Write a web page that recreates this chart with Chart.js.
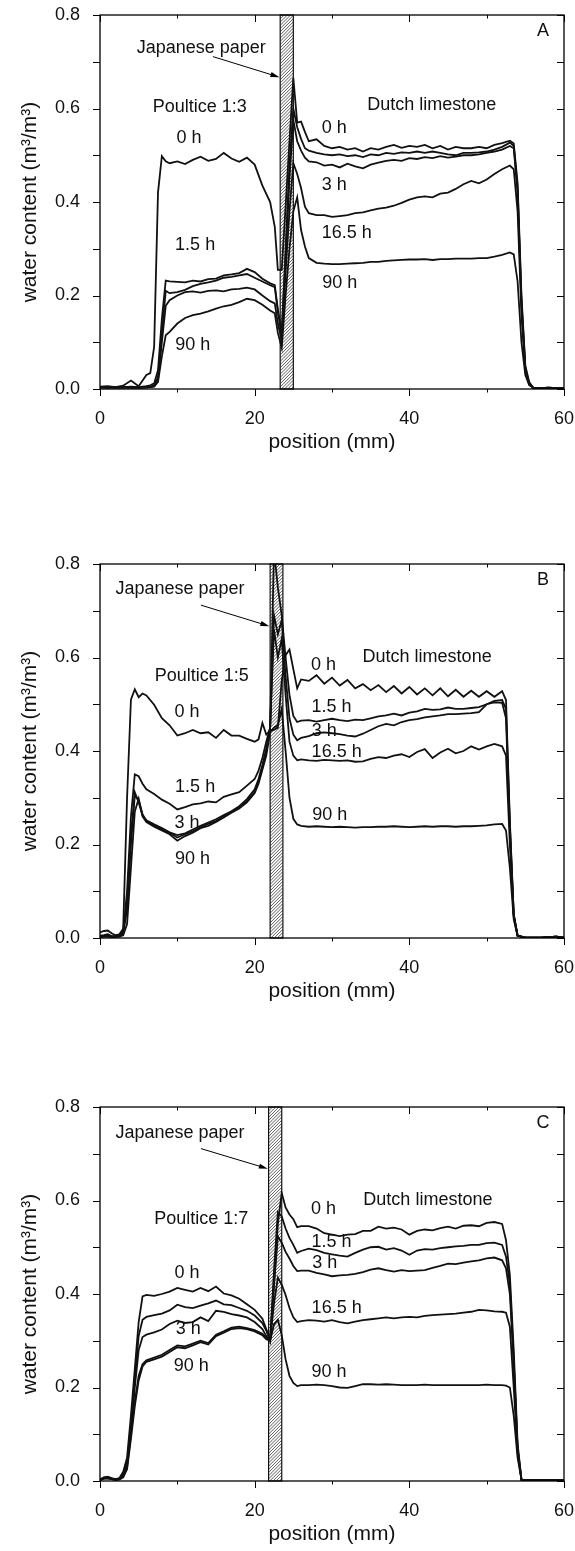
<!DOCTYPE html>
<html>
<head>
<meta charset="utf-8">
<title>water content profiles</title>
<script src="https://cdn.jsdelivr.net/npm/chart.js"></script>
<style>
body{margin:0;background:#fff;width:575px;height:1551px;overflow:hidden;position:relative}
.panel{position:absolute;left:0;width:575px;height:460px}
</style>
</head>
<body>
<div class="panel" style="top:0"><canvas id="pA" width="575" height="460"></canvas></div>
<div class="panel" style="top:549px"><canvas id="pB" width="575" height="460"></canvas></div>
<div class="panel" style="top:1092px"><canvas id="pC" width="575" height="460"></canvas></div>

<script>
const FONT = '"Liberation Sans", Arial, Helvetica, sans-serif';

// ticks
const xMajor = [0, 20, 40, 60];
const yMajor = [0, 0.2, 0.4, 0.6, 0.8];
const seriesNames = ['0 h', '1.5 h', '3 h', '16.5 h', '90 h'];

// ---- panel A : poultice 1:3 ----
const xA = [0,1,2,3,4,5,6,6.5,7,7.5,8,8.5,9,10,11,12,13,14,15,16,17,18,19,20,21,22,22.6,23,23.5,24,24.5,25,25.5,26,26.5,27,
  28,29,30,31,32,33,34,35,36,37,38,39,40,41,42,43,44,45,46,47,48,49,50,51,52,53,53.5,54,54.5,55,55.5,56,57,58,59,60];
const a0 = [.005,.006,.004,.007,.018,.006,.03, .034,.09,.42,.498,.487,
  .483,.487,.481,.49,.497,.488,.492,.505,.493,.486,.495,.48,.435,.40,
  .347,.255,.255,.39,.53,.665,.57,.572,.55,.53,
  .534,.52,.515,.518,.512,.515,.508,.515,.512,.518,.522,.516,.52,.518,.522,.515,.52,.512,.518,.515,.515,.518,.515,.522,.526,.531,
  .525,.44,.2,.05,.015,.003, .002,.003,.002,.002];
const a15 = [.003,.004,.003,.004,.005,.004,.006, .008,.012,.04,.15,.232,
  .23,.229,.228,.232,.23,.235,.236,.243,.245,.248,.257,.25,.236,.226,
  .222,.17,.12,.3,.48,.6,.56,.535,.515,.51,
  .505,.502,.5,.502,.498,.5,.496,.502,.5,.505,.503,.506,.505,.508,.505,.508,.505,.502,.5,.505,.505,.506,.508,.512,.518,.527,
  .52,.43,.19,.045,.012,.003, .002,.003,.002,.002];
const a3 = [.004,.003,.004,.003,.004,.003,.004, .005,.008,.025,.12,.21,
  .205,.207,.212,.22,.225,.228,.232,.238,.24,.243,.246,.238,.23,.222,
  .218,.165,.115,.28,.45,.575,.53,.51,.495,.487,
  .485,.478,.48,.474,.482,.476,.472,.48,.484,.488,.49,.488,.494,.492,.496,.494,.498,.495,.497,.5,.5,.502,.505,.508,.512,.52,
  .515,.42,.18,.04,.01,.003, .002,.002,.002,.002];
const a165 = [.004,.003,.004,.004,.003,.003,.004, .004,.006,.02,.1,.178,
  .19,.2,.207,.209,.206,.21,.211,.209,.213,.214,.217,.213,.2,.188,
  .183,.14,.105,.25,.38,.483,.46,.43,.39,.376,
  .372,.372,.368,.37,.372,.376,.378,.382,.386,.388,.392,.398,.405,.41,.412,.41,.418,.42,.428,.438,.445,.44,.448,.46,.47,.478,
  .47,.38,.16,.04,.01,.003, .002,.002,.002,.002];
const a90 = [.003,.004,.003,.003,.003,.003,.003, .004,.005,.015,.07,.115,
  .122,.14,.152,.158,.161,.166,.172,.177,.18,.186,.193,.19,.18,.168,
  .162,.12,.088,.2,.3,.38,.41,.34,.305,.28,
  .27,.268,.267,.267,.268,.269,.27,.272,.272,.274,.275,.276,.277,.277,.278,.276,.278,.278,.279,.279,.279,.28,.28,.283,.287,.292,
  .288,.23,.1,.03,.008,.003, .002,.003,.002,.002];

// ---- panel B : poultice 1:5 ----
const xB = [0,0.5,1,1.5,2,2.5,3,3.5,4,4.5,5,5.5,6,7,8,9,10,11,12,13,14,15,16,17,18,19,20,
  20.5,21,21.5,22,22.5,23,23.5,24,24.5,25,25.5,26,
  27,28,29,30,31,32,33,34,35,36,37,38,39,40,41,42,43,44,45,46,47,48,49,50,51,52,52.5,53,53.5,54,55,56,57,58,59,60];
const b0 = [.012,.015,.016,.01,.006,.008,.02,.3,.51,.532,.515,.523,.519,
  .499,.47,.455,.433,.438,.445,.438,.44,.428,.445,.433,.433,.426,.42,
  .425,.46,.435,.444,.445,.45,.55,.605,.617,.575,.534,.553,
  .55,.562,.544,.557,.54,.552,.534,.543,.53,.541,.526,.539,.523,.537,.521,.534,.519,.534,.517,.531,.516,.529,.516,.528,.516,.528,
  .509,.25,.05,.005, .001,.001,.001,.002,.003,.001];
const b15 = [.005,.006,.008,.004,.004,.006,.015,.1,.26,.35,.346,.33,.318,
  .308,.296,.287,.275,.28,.286,.288,.292,.29,.302,.307,.312,.326,.34,
  .358,.385,.42,.45,.83,.75,.69,.6,.52,.475,.462,.465,
  .466,.463,.466,.469,.466,.464,.467,.466,.47,.474,.476,.48,.476,.482,.485,.49,.488,.489,.493,.49,.49,.492,.494,.5,.507,.509,
  .49,.24,.05,.005, .001,.001,.001,.002,.003,.001];
const b3 = [.003,.004,.005,.003,.003,.005,.012,.08,.22,.312,.29,.262,.252,
  .243,.235,.226,.22,.224,.232,.24,.247,.254,.263,.271,.282,.297,.318,
  .34,.37,.405,.45,.69,.65,.68,.56,.47,.435,.423,.428,
  .432,.438,.44,.438,.436,.433,.431,.437,.445,.453,.458,.455,.462,.466,.468,.472,.474,.476,.479,.479,.48,.481,.483,.5,.504,.503,
  .47,.23,.05,.005, .001,.001,.001,.002,.003,.001];
const b165 = [.003,.003,.004,.003,.003,.004,.01,.06,.2,.305,.295,.265,.25,
  .24,.232,.225,.215,.222,.228,.237,.244,.25,.26,.27,.28,.293,.312,
  .335,.365,.4,.45,.66,.6,.64,.52,.42,.39,.38,.382,
  .38,.379,.381,.38,.379,.38,.377,.378,.383,.387,.385,.39,.393,.387,.398,.404,.385,.397,.405,.395,.4,.41,.403,.41,.415,.41,
  .39,.2,.045,.005, .001,.001,.001,.002,.003,.001];
const b90 = [.002,.003,.003,.002,.002,.003,.006,.03,.15,.27,.298,.26,.248,
  .238,.23,.222,.208,.218,.225,.235,.24,.248,.258,.268,.277,.29,.31,
  .33,.36,.39,.44,.45,.455,.49,.4,.3,.255,.243,.24,
  .238,.239,.238,.237,.238,.237,.236,.237,.237,.238,.238,.239,.238,.237,.238,.239,.238,.239,.239,.238,.239,.239,.24,.241,.243,.244,
  .23,.15,.04,.005, .001,.001,.001,.002,.003,.001];

// ---- panel C : poultice 1:7 ----
const xC = [0,0.5,1,1.5,2,2.5,3,3.5,4,4.5,5,5.5,6,7,8,9,10,11,12,13,14,15,16,17,18,19,20,21,
  21.5,22,22.5,23,23.5,24,24.5,25,25.5,26,
  27,28,29,30,31,32,33,34,35,36,37,38,39,40,41,42,43,44,45,46,47,48,49,50,51,52,52.5,53,53.5,54,54.5,55,56,57,58,59,60];
const c0 = [.003,.008,.009,.006,.004,.006,.02,.05,.14,.24,.34,.395,.398,
  .396,.4,.405,.413,.409,.405,.413,.406,.416,.401,.397,.39,.378,.366,.347,
  .325,.3,.42,.55,.616,.585,.57,.56,.543,.545,
  .545,.54,.53,.527,.524,.527,.528,.535,.535,.544,.54,.542,.538,.527,.535,.538,.536,.541,.544,.54,.546,.547,.545,.552,.554,.55,
  .515,.44,.28,.08,.003, .002,.002,.002,.002,.002,.002];
const c15 = [.003,.007,.008,.005,.004,.005,.015,.04,.12,.22,.31,.345,.351,
  .355,.358,.365,.377,.372,.37,.375,.38,.386,.378,.376,.37,.364,.354,.338,
  .322,.3,.45,.575,.566,.54,.52,.505,.488,.492,
  .497,.494,.488,.485,.482,.48,.488,.495,.5,.501,.495,.498,.493,.484,.493,.496,.495,.498,.5,.502,.503,.505,.505,.509,.51,.505,
  .48,.42,.26,.07,.003, .002,.002,.002,.002,.002,.002];
const c3 = [.002,.006,.007,.005,.003,.005,.012,.035,.11,.2,.28,.308,.313,
  .318,.324,.336,.343,.338,.34,.35,.342,.364,.362,.357,.354,.35,.34,.325,
  .31,.3,.42,.523,.51,.49,.476,.46,.449,.45,
  .45,.445,.442,.438,.44,.441,.443,.447,.452,.455,.451,.448,.451,.449,.45,.451,.456,.46,.465,.464,.467,.47,.472,.476,.478,.472,
  .455,.4,.25,.07,.003, .002,.002,.002,.002,.002,.002];
const c165 = [.002,.005,.006,.004,.003,.004,.01,.03,.1,.17,.225,.25,.258,
  .264,.27,.28,.29,.288,.294,.3,.295,.313,.32,.328,.33,.327,.323,.315,
  .306,.3,.38,.435,.42,.398,.37,.35,.34,.342,
  .344,.343,.341,.344,.34,.337,.341,.344,.346,.348,.35,.348,.35,.351,.35,.353,.355,.356,.357,.358,.36,.362,.366,.365,.363,.362,
  .36,.33,.2,.06,.003, .002,.002,.002,.002,.002,.002];
const c90 = [.002,.005,.005,.004,.002,.003,.008,.025,.09,.16,.215,.245,.255,
  .26,.266,.276,.286,.284,.29,.297,.292,.31,.317,.325,.327,.325,.32,.312,
  .303,.3,.335,.345,.312,.26,.225,.21,.203,.205,
  .205,.206,.205,.203,.2,.199,.203,.207,.207,.206,.207,.206,.205,.205,.205,.206,.205,.205,.205,.205,.205,.205,.205,.206,.205,.205,
  .204,.2,.14,.05,.003, .002,.002,.002,.002,.002,.002];

// paper strip and annotations for each panel
const panels = [
  { id: 'pA', xs: xA, ys: [a0, a15, a3, a165, a90], paper: [23.3, 25.0], tag: 'A',
    arrow: [14.6, 0.711, 23.2, 0.667],
    notes: [['Japanese paper', 13.1, 0.729], ['Poultice 1:3', 12.9, 0.604], ['0 h', 11.5, 0.536],
            ['1.5 h', 12.3, 0.308], ['90 h', 12.0, 0.095], ['Dutch limestone', 42.9, 0.607],
            ['0 h', 30.3, 0.558], ['3 h', 30.3, 0.436], ['16.5 h', 31.9, 0.334], ['90 h', 31.0, 0.227]] },
  { id: 'pB', xs: xB, ys: [b0, b15, b3, b165, b90], paper: [22.0, 23.65], tag: 'B',
    arrow: [13.05, 0.712, 21.9, 0.667],
    notes: [['Japanese paper', 10.35, 0.746], ['Poultice 1:5', 13.15, 0.561], ['0 h', 11.25, 0.484],
            ['1.5 h', 12.3, 0.323], ['3 h', 11.25, 0.245], ['90 h', 11.95, 0.169], ['Dutch limestone', 42.3, 0.601],
            ['0 h', 28.9, 0.584], ['1.5 h', 29.95, 0.494], ['3 h', 29.0, 0.442], ['16.5 h', 30.6, 0.398], ['90 h', 29.7, 0.262]] },
  { id: 'pC', xs: xC, ys: [c0, c15, c3, c165, c90], paper: [21.8, 23.5], tag: 'C',
    arrow: [13.05, 0.711, 21.7, 0.668],
    notes: [['Japanese paper', 10.35, 0.745], ['Poultice 1:7', 13.1, 0.56], ['0 h', 11.25, 0.445],
            ['3 h', 11.4, 0.326], ['90 h', 11.8, 0.246], ['Dutch limestone', 42.4, 0.6],
            ['0 h', 28.9, 0.582], ['1.5 h', 29.95, 0.511], ['3 h', 29.05, 0.467], ['16.5 h', 30.6, 0.369], ['90 h', 29.6, 0.233]] }
];

const decor = {
  id: 'decor',
  beforeDatasetsDraw(chart, args, opts) {
    const ctx = chart.ctx, a = chart.chartArea, xs = chart.scales.x;
    const x1 = xs.getPixelForValue(opts.paper[0]), x2 = xs.getPixelForValue(opts.paper[1]);
    const w = x2 - x1;
    ctx.save();
    ctx.beginPath(); ctx.rect(x1, a.top, w, a.bottom - a.top); ctx.clip();
    ctx.strokeStyle = '#333'; ctx.lineWidth = 0.8;
    ctx.beginPath();
    for (let y = a.bottom + w + 4; y > a.top - 4; y -= 3.2) {
      ctx.moveTo(x1, y); ctx.lineTo(x2, y - w);
    }
    ctx.stroke();
    ctx.restore();
    ctx.save();
    ctx.strokeStyle = '#111'; ctx.lineWidth = 1.2;
    ctx.strokeRect(x1, a.top, w, a.bottom - a.top);
    ctx.restore();
  },
  afterDraw(chart, args, opts) {
    const ctx = chart.ctx, a = chart.chartArea, xs = chart.scales.x, ys = chart.scales.y;
    ctx.save();
    ctx.strokeStyle = '#000'; ctx.lineWidth = 1.3;
    ctx.strokeRect(a.left, a.top, a.right - a.left, a.bottom - a.top);
    ctx.lineWidth = 1;
    ctx.beginPath();
    for (let i = 0; i < yMajor.length; i++) {
      const vals = [yMajor[i]];
      if (i < yMajor.length - 1) vals.push((yMajor[i] + yMajor[i + 1]) / 2);
      vals.forEach(v => {
        const py = Math.round(ys.getPixelForValue(v)) + 0.5;
        ctx.moveTo(a.left - 7, py); ctx.lineTo(a.left, py);
        ctx.moveTo(a.right, py); ctx.lineTo(a.right - 7, py);
      });
    }
    for (let i = 0; i < xMajor.length; i++) {
      const ticks = [[xMajor[i], 7]];
      if (i < xMajor.length - 1) ticks.push([(xMajor[i] + xMajor[i + 1]) / 2, 3.5]);
      ticks.forEach(([v, len]) => {
        const px = Math.round(xs.getPixelForValue(v)) + 0.5;
        ctx.moveTo(px, a.bottom); ctx.lineTo(px, a.bottom + len);
        ctx.moveTo(px, a.top); ctx.lineTo(px, a.top + len);
      });
    }
    ctx.stroke();

    // arrow to the paper strip
    const [ax0, ay0, ax1, ay1] = opts.arrow;
    const p0 = [xs.getPixelForValue(ax0), ys.getPixelForValue(ay0)];
    const p1 = [xs.getPixelForValue(ax1), ys.getPixelForValue(ay1)];
    const ang = Math.atan2(p1[1] - p0[1], p1[0] - p0[0]);
    ctx.beginPath();
    ctx.moveTo(p0[0], p0[1]); ctx.lineTo(p1[0] - 6 * Math.cos(ang), p1[1] - 6 * Math.sin(ang));
    ctx.stroke();
    ctx.beginPath();
    ctx.moveTo(p1[0], p1[1]);
    ctx.lineTo(p1[0] - 9 * Math.cos(ang) + 2.6 * Math.sin(ang), p1[1] - 9 * Math.sin(ang) - 2.6 * Math.cos(ang));
    ctx.lineTo(p1[0] - 9 * Math.cos(ang) - 2.6 * Math.sin(ang), p1[1] - 9 * Math.sin(ang) + 2.6 * Math.cos(ang));
    ctx.closePath();
    ctx.fillStyle = '#000'; ctx.fill();

    ctx.fillStyle = '#111';
    ctx.font = '18px ' + FONT;
    ctx.textAlign = 'center'; ctx.textBaseline = 'middle';
    opts.notes.forEach(([t, x, y]) => ctx.fillText(t, xs.getPixelForValue(x), ys.getPixelForValue(y)));
    ctx.fillText(opts.tag, xs.getPixelForValue(57.3), ys.getPixelForValue(0.765));
    ctx.restore();
  }
};

function makeChart(p) {
  const datasets = p.ys.map((ys, k) => {
    if (ys.length !== p.xs.length) console.warn(p.id, seriesNames[k], ys.length, p.xs.length);
    return {
      label: seriesNames[k],
      data: p.xs.map((x, i) => ({ x: x, y: ys[i] })),
      borderColor: '#111', borderWidth: 1.8,
      pointRadius: 0, tension: 0, fill: false
    };
  });
  new Chart(document.getElementById(p.id), {
    type: 'line',
    data: { datasets },
    options: {
      responsive: false, animation: false,
      layout: { padding: { top: 15, right: 11, left: 0, bottom: 0 } },
      plugins: {
        legend: { display: false }, tooltip: { enabled: false },
        decor: { paper: p.paper, arrow: p.arrow, notes: p.notes, tag: p.tag }
      },
      scales: {
        x: {
          type: 'linear', min: 0, max: 60,
          afterBuildTicks: s => { s.ticks = xMajor.map(v => ({ value: v })); },
          afterFit: s => { s.height = 71; s.paddingLeft = 0; s.paddingRight = 0; },
          grid: { display: false }, border: { display: false },
          ticks: { color: '#111', font: { family: FONT, size: 18 }, padding: 11, maxRotation: 0, autoSkip: false },
          title: { display: true, text: 'position (mm)', color: '#111',
                   font: { family: FONT, size: 21 }, padding: { top: 0, bottom: 5 } }
        },
        y: {
          type: 'linear', min: 0, max: 0.8,
          afterBuildTicks: s => { s.ticks = yMajor.map(v => ({ value: v })); },
          afterFit: s => { s.width = 100; s.paddingTop = 0; s.paddingBottom = 0; },
          grid: { display: false }, border: { display: false },
          ticks: { color: '#111', font: { family: FONT, size: 18 }, padding: 12,
                   callback: v => Number(v).toFixed(1) },
          title: { display: true, text: 'water content (m³/m³)', color: '#111',
                   font: { family: FONT, size: 21 }, padding: { top: 18, bottom: 0 } }
        }
      }
    },
    plugins: [decor]
  });
}

panels.forEach(makeChart);
</script>
</body>
</html>
